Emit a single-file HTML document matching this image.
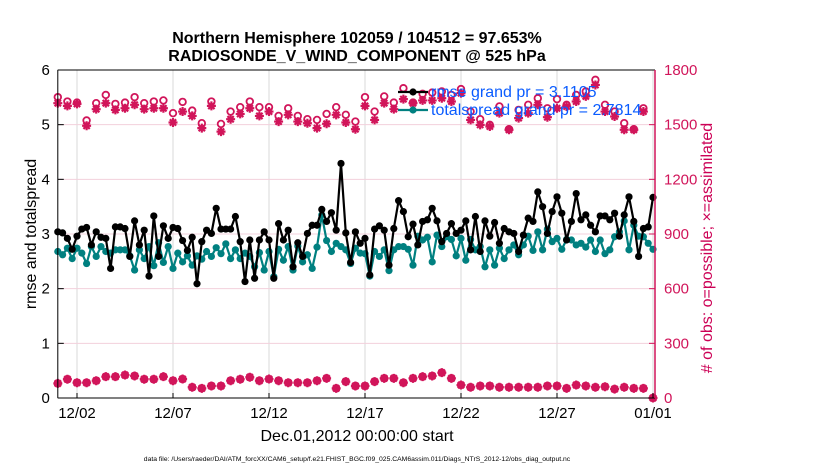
<!DOCTYPE html>
<html><head><meta charset="utf-8"><style>
html,body{margin:0;padding:0;background:#fff;}
svg{display:block;font-family:"Liberation Sans",Arial,sans-serif;}
</style></head><body>
<svg id="chart" width="830" height="470" viewBox="0 0 830 470" xmlns="http://www.w3.org/2000/svg">
<rect width="830" height="470" fill="#fff"/>
<text x="357" y="43" text-anchor="middle" font-size="16" font-weight="bold">Northern Hemisphere 102059 / 104512 = 97.653%</text>
<text x="357" y="61" text-anchor="middle" font-size="16" font-weight="bold">RADIOSONDE_V_WIND_COMPONENT @ 525 hPa</text>
<g id="grid"></g>
<g id="series"></g>
<g id="axes"></g>
<text transform="translate(36,234) rotate(-90)" text-anchor="middle" font-size="16">rmse and totalspread</text>
<text transform="translate(712,248) rotate(-90)" text-anchor="middle" font-size="16" fill="#cc0055"># of obs: o=possible; ×=assimilated</text>
<text x="357" y="441" text-anchor="middle" font-size="16">Dec.01,2012 00:00:00 start</text>
<text x="357" y="461" text-anchor="middle" font-size="6.8">data file: /Users/raeder/DAI/ATM_forcXX/CAM6_setup/f.e21.FHIST_BGC.f09_025.CAM6assim.011/Diags_NTrS_2012-12/obs_diag_output.nc</text>
<g id="legend"></g>
</svg>
<script>
const rmse=[3.04,3.02,2.92,2.72,2.96,3.09,3.12,2.80,3.04,2.94,2.92,2.37,3.13,3.13,3.10,2.59,3.24,2.80,3.07,2.23,3.33,2.59,3.15,2.92,3.12,3.10,2.88,2.70,2.94,2.09,2.86,3.07,3.01,3.47,3.09,3.09,3.09,3.32,2.86,2.13,2.89,2.19,
2.89,3.04,2.89,2.19,3.19,2.89,3.07,2.40,2.84,2.59,3.01,3.16,3.16,3.45,3.23,3.39,3.07,4.29,3.02,2.48,3.04,2.83,2.92,2.25,3.09,3.15,3.07,2.43,3.10,3.61,3.41,2.95,3.18,2.80,3.23,3.26,3.47,3.24,2.86,3.01,3.19,3.01,
3.07,3.24,2.71,3.32,2.68,3.24,2.96,3.21,2.83,3.10,3.04,3.01,2.68,2.98,3.29,3.23,3.77,3.50,3.01,3.41,3.68,3.38,2.89,3.23,3.74,3.26,3.35,3.16,3.04,3.33,3.33,3.26,3.38,2.96,3.35,3.68,3.23,2.59,3.10,3.13,3.67];
const spread=[2.68,2.62,2.74,2.55,2.74,2.65,2.46,2.77,2.59,2.77,2.68,2.65,2.71,2.71,2.71,2.60,2.34,2.71,2.55,2.77,2.42,2.84,2.48,2.77,2.37,2.65,2.49,2.60,2.43,2.60,2.54,2.68,2.59,2.75,2.64,2.82,2.55,2.71,2.55,2.65,2.59,2.40,
2.66,2.34,2.68,2.22,2.72,2.52,2.77,2.34,2.78,2.49,2.62,2.37,2.76,3.35,2.88,2.68,2.83,2.77,2.71,2.46,2.74,2.65,2.64,2.23,2.68,2.59,2.71,2.33,2.71,2.77,2.77,2.72,2.43,2.96,2.89,2.94,2.49,2.98,2.77,2.95,2.90,2.60,
2.92,2.52,2.90,2.71,2.77,2.40,2.71,2.43,2.74,2.55,2.71,2.80,2.62,2.80,2.96,2.70,3.04,2.71,3.09,2.86,2.92,2.72,2.90,2.89,2.80,2.83,2.76,2.89,2.68,2.89,2.64,2.71,2.95,3.04,3.24,2.71,3.16,2.96,2.95,2.83,2.72];
const obsPossible=[1651,1627,1621,1523,1618,1663,1614,1621,1651,1618,1627,1633,1563,1625,1577,1508,1627,1504,1572,1596,1627,1596,1596,1548,1590,1548,1530,1526,1559,1596,1554,1517,
1651,1572,1655,1621,1700,1621,1669,1676,1682,1663,1695,1572,1530,1499,1600,1475,1581,1609,1645,1590,1640,1609,1663,1682,1746,1609,1572,1508,1475,1590];
const obsAssim=[1618,1603,1614,1494,1585,1618,1581,1590,1609,1585,1590,1590,1512,1572,1548,1481,1603,1462,1530,1559,1590,1548,1572,1517,1554,1517,1508,1481,1505,1554,1512,1475,
1603,1526,1618,1585,1640,1618,1633,1633,1645,1627,1673,1526,1499,1490,1563,1472,1536,1563,1609,1541,1590,1600,1627,1655,1718,1572,1545,1472,1472,1572];
const obsLow=[80,103,84,84,95,117,117,126,121,103,103,117,95,104,59,53,66,66,95,103,114,95,104,95,84,84,84,95,108,53,90,66,66,90,108,108,84,108,117,121,139,108,71,59,66,66,59,59,59,59,59,66,66,53,71,66,59,62,49,59,53,53,0];
const xTickLabels=["12/02","12/07","12/12","12/17","12/22","12/27","01/01"];
const xTickDays=[1,6,11,16,21,26,31];
const yTicksLeft=[0,1,2,3,4,5,6];
const yTicksRight=[0,300,600,900,1200,1500,1800];

const L=57.8,R=655,T=70,B=398,DAYW=19.2;
const xs=d=>L+d*DAYW;
const yl=v=>B-(v/6)*(B-T);
const yr=v=>B-(v/1800)*(B-T);
const NS="http://www.w3.org/2000/svg";
const MAG="#d1155a",TEAL="#008080";
function mk(tag,attrs,parent){const e=document.createElementNS(NS,tag);for(const k in attrs)e.setAttribute(k,attrs[k]);parent.appendChild(e);return e;}
const grid=document.getElementById('grid'),ser=document.getElementById('series'),ax=document.getElementById('axes'),leg=document.getElementById('legend');

xTickDays.forEach((d,i)=>{
  const gl=mk('line',{x1:xs(d),x2:xs(d),y1:T,y2:B,stroke:'#d8d8d8','stroke-width':1},grid);
  
  
  const tk=mk('line',{x1:xs(d),x2:xs(d),y1:B,y2:B-5,stroke:'#000','stroke-width':1},ax);
  
  
  const t=mk('text',{x:xs(d),y:B+20,'text-anchor':'middle','font-size':15},ax);
  t.textContent=xTickLabels[i];
  
  
});
yTicksRight.forEach(v=>{
  const gl=mk('line',{x1:L,x2:R,y1:yr(v),y2:yr(v),stroke:'#f3d0dc','stroke-width':1},grid);
  
  
  const tk=mk('line',{x1:R,x2:R-6,y1:yr(v),y2:yr(v),stroke:MAG,'stroke-width':1},ax);
  
  
  const t=mk('text',{x:R+9,y:yr(v)+5,'font-size':15,fill:MAG},ax);
  t.textContent=v;
  
  
});
yTicksLeft.forEach(v=>{
  const tk=mk('line',{x1:L,x2:L+6,y1:yl(v),y2:yl(v),stroke:'#000','stroke-width':1},ax);
  
  
  const t=mk('text',{x:L-8,y:yl(v)+5,'font-size':15,'text-anchor':'end'},ax);
  t.textContent=v;
  
  
});
const axL=mk('line',{x1:L,x2:L,y1:T,y2:B,stroke:'#000'},ax);


const axB=mk('line',{x1:L,x2:R,y1:B,y2:B,stroke:'#000'},ax);


const axT=mk('line',{x1:L,x2:R,y1:T,y2:T,stroke:'#000'},ax);


const axR=mk('line',{x1:R,x2:R,y1:T,y2:B,stroke:MAG,'stroke-width':1.5},ax);



function star(x,y,parent,name){
  const s=4.5;
  const p=mk('path',{d:`M${x-s},${y}H${x+s}M${x},${y-s}V${y+s}M${x-s*0.7},${y-s*0.7}L${x+s*0.7},${y+s*0.7}M${x-s*0.7},${y+s*0.7}L${x+s*0.7},${y-s*0.7}`,stroke:MAG,'stroke-width':2.2,fill:'none'},parent);
  
  
}
function ring(x,y,parent,name){
  const c=mk('circle',{cx:x,cy:y,r:3.3,fill:'#fff',stroke:MAG,'stroke-width':1.8},parent);
  
  
}
obsPossible.forEach((v,k)=>ring(xs(k*0.5),yr(v),ser,'obs-possible-point'));
obsAssim.forEach((v,k)=>star(xs(k*0.5),yr(v),ser,'obs-assimilated-point'));
obsLow.forEach((v,k)=>{ring(xs(k*0.5),yr(v),ser,'obs-possible-low-point');star(xs(k*0.5),yr(v),ser,'obs-assimilated-low-point');});

function line(arr,color,name){
  const d=arr.map((v,i)=>(i?'L':'M')+xs(i*0.25).toFixed(1)+','+yl(v).toFixed(1)).join('');
  const p=mk('path',{d:d,stroke:color,'stroke-width':2.2,fill:'none','stroke-linejoin':'round'},ser);
  
  
  arr.forEach((v,i)=>{
    const c=mk('circle',{cx:xs(i*0.25),cy:yl(v),r:3.6,fill:color},ser);
    
    
  });
}
line(spread,TEAL,'totalspread');
line(rmse,'#000','rmse');

[[92,'#000','rmse grand pr = 3.1105','legend-rmse'],[110,TEAL,'totalspread grand pr = 2.7814','legend-totalspread']].forEach(([y,c,txt,nm])=>{
  const l=mk('line',{x1:398,x2:428,y1:y,y2:y,stroke:c,'stroke-width':2.2},leg);
  
  
  const m=mk('circle',{cx:413,cy:y,r:3.6,fill:c},leg);
  
  
  const t=mk('text',{x:431,y:y+5,'font-size':16,fill:'#0a5cff'},leg);
  t.textContent=txt;
  
  
});
</script>
</body></html>
